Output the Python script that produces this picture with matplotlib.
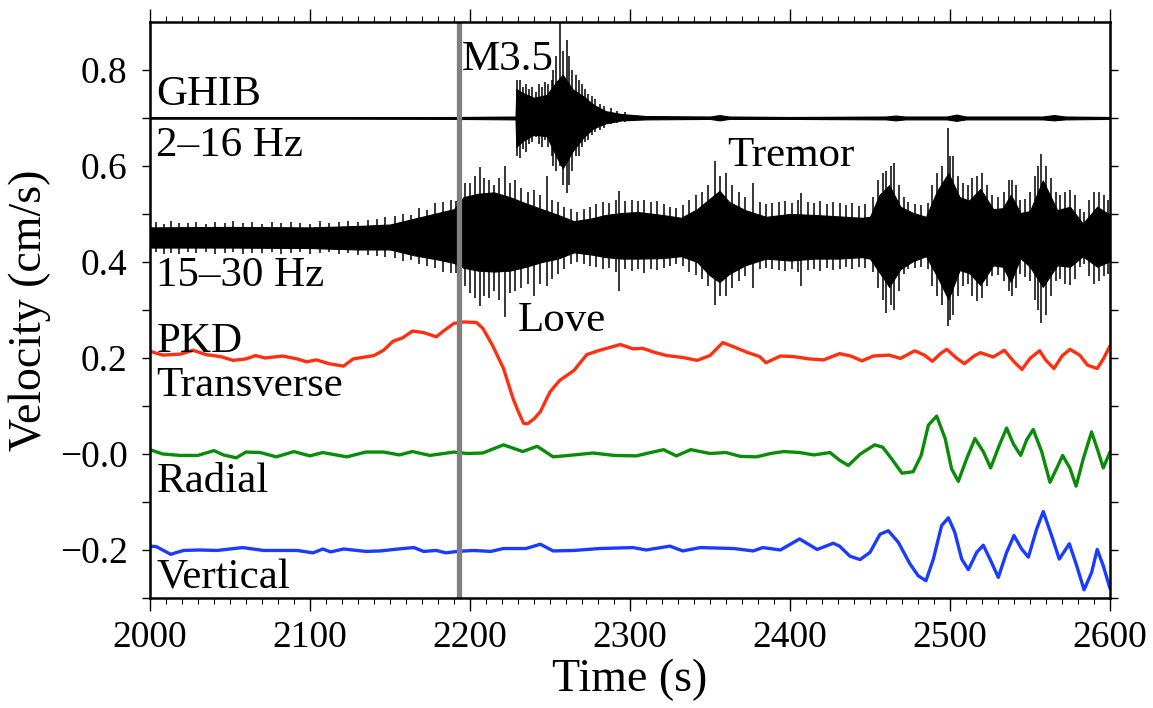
import numpy as np
import matplotlib.pyplot as plt
from matplotlib.ticker import MultipleLocator, FixedLocator, FixedFormatter

plt.rcParams['font.family'] = ['Liberation Serif', 'DejaVu Serif']

# PKD transverse (red), velocity offset around 0.2
t_trans = [2000, 2008, 2019, 2027, 2035, 2044, 2052, 2060, 2066, 2072, 2083, 2092,
           2098, 2104, 2112, 2121, 2127, 2140, 2146, 2152, 2158, 2164, 2171, 2179,
           2183, 2190, 2196, 2204, 2208, 2214, 2221, 2227, 2230, 2233.5, 2236, 2240,
           2244, 2250, 2256, 2265, 2273, 2281, 2294, 2302, 2308, 2315, 2323, 2333,
           2342, 2350, 2358, 2365, 2373, 2381, 2385, 2394, 2402, 2412, 2421, 2431,
           2438, 2445, 2452, 2462, 2469, 2478, 2484, 2489, 2494, 2498, 2504, 2509,
           2515, 2519, 2527, 2534, 2540, 2545, 2550, 2556, 2560, 2565, 2570, 2575,
           2581, 2586, 2592, 2596, 2600]
v_trans = [0.214, 0.206, 0.208, 0.216, 0.207, 0.203, 0.195, 0.198, 0.205, 0.200, 0.204, 0.198,
           0.192, 0.196, 0.188, 0.183, 0.198, 0.205, 0.216, 0.235, 0.242, 0.256, 0.253, 0.244,
           0.255, 0.272, 0.275, 0.274, 0.262, 0.227, 0.178, 0.115, 0.090, 0.064, 0.063, 0.073,
           0.088, 0.129, 0.153, 0.174, 0.207, 0.216, 0.228, 0.219, 0.220, 0.212, 0.205, 0.201,
           0.195, 0.205, 0.232, 0.223, 0.212, 0.203, 0.190, 0.204, 0.203, 0.198, 0.196, 0.209,
           0.204, 0.194, 0.204, 0.206, 0.199, 0.215, 0.206, 0.193, 0.209, 0.218, 0.200, 0.188,
           0.204, 0.211, 0.202, 0.216, 0.192, 0.176, 0.199, 0.215, 0.195, 0.178, 0.204, 0.218,
           0.206, 0.185, 0.178, 0.199, 0.225]

# PKD radial (green), offset around 0.0
t_rad = [2000, 2008, 2019, 2030, 2040, 2046, 2054, 2060, 2069, 2079, 2090, 2100,
         2108, 2123, 2135, 2146, 2156, 2164, 2175, 2190, 2198, 2208, 2221, 2233,
         2242, 2252, 2265, 2277, 2290, 2304, 2313, 2321, 2329, 2338, 2350, 2360,
         2369, 2379, 2388, 2396, 2406, 2415, 2425, 2431, 2436.5, 2444, 2453, 2458,
         2463.5, 2470, 2477, 2482, 2486.5, 2491.7, 2497, 2501, 2505.2, 2510.4, 2515.6,
         2520.8, 2525.4, 2530.8, 2535.4, 2539.6, 2544.2, 2548, 2552, 2557.3, 2562.5,
         2566.7, 2570.4, 2575, 2578.8, 2583.3, 2588.5, 2592.7, 2595.8, 2600]
v_rad = [0.009, 0.000, -0.003, -0.003, 0.007, -0.002, -0.008, 0.004, 0.003, -0.006, 0.005, -0.004,
         0.003, -0.006, 0.004, 0.004, -0.002, 0.005, -0.003, 0.004, 0.001, 0.002, 0.019, 0.005,
         0.016, -0.006, -0.002, 0.002, -0.003, -0.004, 0.003, 0.009, -0.004, 0.009, 0.001, 0.003,
         -0.005, -0.006, 0.001, 0.005, 0.003, -0.002, 0.003, -0.013, -0.024, 0.000, 0.019, 0.014,
         -0.010, -0.040, -0.037, -0.003, 0.060, 0.079, 0.032, -0.031, -0.057, -0.010, 0.032,
         0.005, -0.029, 0.018, 0.054, 0.021, -0.003, 0.030, 0.051, 0.005, -0.059,
         -0.030, -0.003, -0.030, -0.067, -0.010, 0.046, 0.004, -0.029, 0.004]

# PKD vertical (blue), offset around -0.2
t_vert = [2000, 2004, 2013, 2021, 2031, 2042, 2058, 2071, 2092, 2102, 2108, 2113,
          2121, 2135, 2144, 2158, 2165, 2171, 2179, 2185, 2192, 2202, 2213, 2221,
          2235, 2244, 2252, 2265, 2281, 2302, 2310, 2325, 2333, 2344, 2365, 2377,
          2383, 2394, 2406, 2417, 2427, 2431, 2437.5, 2443.8, 2450, 2456.3, 2461.5,
          2467.7, 2475, 2480.2, 2485, 2489.6, 2494.8, 2499, 2503, 2507.3, 2511.5,
          2516.7, 2520.8, 2525, 2530.2, 2535.4, 2540, 2544.8, 2549, 2554.2, 2558.3,
          2563.5, 2568.3, 2574.6, 2579.2, 2583.8, 2588.5, 2592, 2595.8, 2600]
v_vert = [-0.192, -0.193, -0.209, -0.201, -0.200, -0.201, -0.195, -0.201, -0.201, -0.206, -0.198, -0.204,
          -0.198, -0.203, -0.202, -0.197, -0.195, -0.203, -0.201, -0.206, -0.203, -0.201, -0.203, -0.197,
          -0.197, -0.188, -0.202, -0.201, -0.197, -0.195, -0.200, -0.192, -0.202, -0.195, -0.197, -0.202,
          -0.195, -0.200, -0.177, -0.199, -0.186, -0.192, -0.213, -0.220, -0.205, -0.167, -0.160,
          -0.184, -0.229, -0.254, -0.264, -0.219, -0.149, -0.133, -0.163, -0.219, -0.241,
          -0.205, -0.190, -0.219, -0.257, -0.205, -0.170, -0.198, -0.215, -0.156, -0.120,
          -0.170, -0.219, -0.187, -0.233, -0.283, -0.247, -0.199, -0.233, -0.280]

# GHIB 2-16 Hz envelope (centred on 0.70)
t_ghib = [2000, 2060, 2120, 2190, 2228.5, 2229, 2233, 2240, 2248, 2254, 2258, 2264,
          2271, 2277, 2285, 2295, 2310, 2350, 2356, 2362, 2400, 2460, 2466, 2472,
          2498, 2504, 2510, 2558, 2565, 2572, 2600]
ghib_hi = [0.7015, 0.7015, 0.7015, 0.702, 0.703, 0.760, 0.752, 0.742, 0.748, 0.775, 0.790, 0.760,
           0.745, 0.728, 0.714, 0.708, 0.704, 0.703, 0.706, 0.703, 0.702, 0.703, 0.705, 0.703,
           0.703, 0.707, 0.703, 0.703, 0.706, 0.703, 0.702]
ghib_lo = [0.6985, 0.6985, 0.6985, 0.698, 0.697, 0.640, 0.652, 0.665, 0.662, 0.620, 0.595, 0.630,
           0.660, 0.678, 0.689, 0.695, 0.697, 0.698, 0.695, 0.698, 0.698, 0.697, 0.695, 0.697,
           0.697, 0.694, 0.697, 0.697, 0.695, 0.697, 0.698]
# single swings of the M3.5 record: time, max, min
ghib_spk_t = [2229.5, 2231, 2233, 2235, 2237, 2239, 2241, 2243, 2245, 2247, 2249, 2251,
              2252, 2254, 2256.5, 2258, 2260.6, 2262, 2264, 2266, 2268, 2270, 2272, 2274,
              2276, 2278, 2281, 2284, 2288, 2292, 2297]
ghib_spk_hi = [0.780, 0.780, 0.765, 0.770, 0.760, 0.765, 0.755, 0.770, 0.765, 0.775, 0.770, 0.780,
               0.800, 0.830, 0.905, 0.840, 0.863, 0.830, 0.800, 0.790, 0.780, 0.770, 0.760, 0.750,
               0.745, 0.740, 0.730, 0.725, 0.720, 0.715, 0.712]
ghib_spk_lo = [0.620, 0.616, 0.635, 0.630, 0.645, 0.650, 0.660, 0.645, 0.640, 0.655, 0.640, 0.620,
               0.600, 0.590, 0.600, 0.560, 0.543, 0.560, 0.590, 0.620, 0.620, 0.640, 0.650, 0.655,
               0.665, 0.670, 0.675, 0.680, 0.688, 0.690, 0.692]

# 15-30 Hz envelope (centred on 0.45)
t_hf = [2000, 2050, 2100, 2130, 2150, 2165, 2180, 2190, 2196, 2205, 2215, 2225,
        2235, 2245, 2255, 2265, 2275, 2285, 2295, 2305, 2320, 2332, 2342, 2350,
        2356, 2362, 2372, 2385, 2400, 2415, 2430, 2445, 2450, 2456, 2462, 2469,
        2477, 2485, 2492, 2499, 2506, 2512, 2519, 2527, 2533, 2538, 2544, 2550,
        2558, 2567, 2575, 2583, 2592, 2600]
hf_hi = [0.472, 0.473, 0.472, 0.475, 0.478, 0.490, 0.502, 0.510, 0.535, 0.542, 0.545, 0.535,
         0.522, 0.510, 0.498, 0.485, 0.490, 0.498, 0.502, 0.504, 0.498, 0.492, 0.510, 0.532,
         0.548, 0.525, 0.508, 0.494, 0.500, 0.498, 0.495, 0.492, 0.494, 0.540, 0.560, 0.515,
         0.502, 0.494, 0.548, 0.585, 0.535, 0.528, 0.552, 0.510, 0.512, 0.540, 0.502, 0.506,
         0.570, 0.508, 0.515, 0.480, 0.515, 0.498]
hf_lo = [0.430, 0.430, 0.429, 0.426, 0.426, 0.414, 0.405, 0.398, 0.388, 0.382, 0.380, 0.382,
         0.390, 0.400, 0.407, 0.420, 0.416, 0.410, 0.407, 0.407, 0.408, 0.412, 0.400, 0.372,
         0.358, 0.375, 0.393, 0.407, 0.403, 0.407, 0.407, 0.410, 0.407, 0.378, 0.348, 0.385,
         0.402, 0.412, 0.370, 0.322, 0.383, 0.377, 0.352, 0.393, 0.390, 0.358, 0.408, 0.390,
         0.348, 0.393, 0.390, 0.412, 0.390, 0.402]
# single swings standing out of the 15-30 Hz band: time, max, min
hf_spk_t = [2004, 2009, 2013, 2018, 2024, 2029, 2035, 2041, 2047, 2052, 2058, 2064,
            2070, 2076, 2082, 2088, 2094, 2100, 2106, 2112, 2118, 2124, 2130, 2136,
            2142, 2147, 2153, 2158, 2163, 2168, 2173, 2178, 2183, 2188, 2191, 2197,
            2200, 2203, 2206, 2209, 2212, 2215, 2218, 2222, 2225, 2228, 2232, 2236,
            2240, 2244, 2248, 2251, 2255, 2259, 2263, 2267, 2271, 2275, 2279, 2283,
            2287, 2291, 2293, 2297, 2301, 2305, 2309, 2313, 2317, 2321, 2325, 2329,
            2333, 2337, 2341, 2345, 2349, 2353, 2356, 2360, 2364, 2368, 2372, 2377,
            2381, 2385, 2389, 2393, 2397, 2401, 2405, 2407, 2411, 2415, 2419, 2423,
            2427, 2431, 2435, 2439, 2443, 2447, 2452, 2455, 2458, 2460, 2463, 2465,
            2468, 2471, 2474, 2478, 2482, 2486, 2489, 2492, 2495, 2498.5, 2500, 2502,
            2505, 2508, 2511, 2514, 2517, 2520, 2523, 2526, 2530, 2534, 2537, 2538.5,
            2541, 2544, 2547, 2550, 2553, 2555, 2557, 2560, 2563, 2566, 2569, 2572,
            2575, 2578, 2581, 2584, 2587, 2590, 2593, 2596, 2599]
hf_spk_hi = [0.483, 0.480, 0.486, 0.482, 0.481, 0.484, 0.480, 0.483, 0.482, 0.485, 0.481, 0.484,
             0.480, 0.483, 0.482, 0.484, 0.481, 0.480, 0.485, 0.482, 0.484, 0.486, 0.483, 0.488,
             0.490, 0.494, 0.495, 0.500, 0.498, 0.512, 0.508, 0.522, 0.525, 0.530, 0.528, 0.565,
             0.565, 0.580, 0.597, 0.575, 0.570, 0.560, 0.575, 0.600, 0.565, 0.570, 0.555, 0.545,
             0.550, 0.540, 0.579, 0.530, 0.525, 0.515, 0.510, 0.505, 0.510, 0.515, 0.520, 0.525,
             0.522, 0.530, 0.547, 0.528, 0.530, 0.528, 0.530, 0.525, 0.528, 0.520, 0.515, 0.512,
             0.518, 0.530, 0.540, 0.545, 0.560, 0.610, 0.580, 0.585, 0.560, 0.545, 0.535, 0.564,
             0.525, 0.520, 0.522, 0.525, 0.528, 0.523, 0.530, 0.543, 0.525, 0.522, 0.528, 0.520,
             0.525, 0.522, 0.518, 0.523, 0.516, 0.520, 0.535, 0.570, 0.585, 0.590, 0.600, 0.606,
             0.560, 0.535, 0.525, 0.520, 0.518, 0.522, 0.560, 0.585, 0.600, 0.680, 0.620, 0.620,
             0.580, 0.565, 0.560, 0.575, 0.580, 0.585, 0.560, 0.540, 0.535, 0.545, 0.570, 0.570,
             0.560, 0.530, 0.532, 0.545, 0.580, 0.600, 0.625, 0.600, 0.575, 0.545, 0.540, 0.545,
             0.550, 0.540, 0.510, 0.505, 0.530, 0.545, 0.545, 0.540, 0.530]
hf_spk_lo = [0.420, 0.417, 0.419, 0.416, 0.420, 0.418, 0.421, 0.417, 0.419, 0.420, 0.416, 0.419,
             0.418, 0.421, 0.417, 0.419, 0.420, 0.416, 0.418, 0.420, 0.417, 0.419, 0.415, 0.414,
             0.412, 0.410, 0.408, 0.402, 0.404, 0.395, 0.392, 0.388, 0.380, 0.378, 0.376, 0.350,
             0.335, 0.325, 0.309, 0.330, 0.324, 0.340, 0.320, 0.286, 0.335, 0.340, 0.345, 0.355,
             0.330, 0.355, 0.350, 0.365, 0.375, 0.385, 0.395, 0.400, 0.395, 0.392, 0.390, 0.385,
             0.388, 0.380, 0.340, 0.385, 0.382, 0.385, 0.378, 0.385, 0.383, 0.388, 0.392, 0.395,
             0.392, 0.380, 0.372, 0.365, 0.350, 0.310, 0.330, 0.330, 0.345, 0.360, 0.370, 0.345,
             0.385, 0.388, 0.385, 0.383, 0.382, 0.386, 0.380, 0.350, 0.383, 0.386, 0.382, 0.388,
             0.384, 0.386, 0.390, 0.386, 0.390, 0.388, 0.380, 0.345, 0.320, 0.293, 0.310, 0.300,
             0.340, 0.375, 0.385, 0.388, 0.390, 0.385, 0.350, 0.330, 0.310, 0.266, 0.280, 0.290,
             0.330, 0.350, 0.355, 0.330, 0.318, 0.325, 0.350, 0.370, 0.372, 0.360, 0.340, 0.330,
             0.345, 0.375, 0.368, 0.360, 0.320, 0.300, 0.272, 0.290, 0.330, 0.360, 0.365, 0.355,
             0.352, 0.365, 0.390, 0.395, 0.370, 0.355, 0.360, 0.370, 0.375]

t_origin = 2193

fig = plt.figure(figsize=(11.53, 7.08), dpi=100)
ax = fig.add_axes([0.130, 0.1554, 0.8327, 0.8136])

# high-frequency traces
ax.fill_between(t_ghib, ghib_lo, ghib_hi, color='black', lw=0.8)
ax.plot([2000, 2600], [0.70, 0.70], color='black', lw=1.3)
ax.vlines(ghib_spk_t, ghib_spk_lo, ghib_spk_hi, color='black', lw=1.1)
ax.fill_between(t_hf, hf_lo, hf_hi, color='black', lw=0.8)
ax.vlines(hf_spk_t, hf_spk_lo, hf_spk_hi, color='black', lw=1.1)

# long-period PKD components
for tt, vv, c in [(t_trans, v_trans, '#ff3010'), (t_rad, v_rad, '#0a8c0a'),
                  (t_vert, v_vert, '#1a3cff')]:
    ax.plot(tt, vv, color=c, lw=2.4, solid_joinstyle='round', solid_capstyle='round')

ax.axvline(t_origin, color='#808080', lw=3.8)

ax.set_xlim(2000, 2600)
ax.set_ylim(-0.3, 0.9)

# labels
fs = 31
txt = dict(fontsize=fs, ha='left', va='baseline')
ax.text(2004, 0.727, 'GHIB', **txt)
ax.text(2004, 0.621, '2–16 Hz', **txt)
ax.text(2004, 0.350, '15–30 Hz', **txt)
ax.text(2004, 0.213, 'PKD', **txt)
ax.text(2004, 0.121, 'Transverse', **txt)
ax.text(2004, -0.080, 'Radial', **txt)
ax.text(2004, -0.281, 'Vertical', **txt)
ax.text(2195, 0.800, 'M3.5', **txt)
ax.text(2230, 0.257, 'Love', **txt)
ax.text(2361, 0.600, 'Tremor', **txt)

# ticks on all sides, pointing outward
ax.xaxis.set_major_locator(MultipleLocator(100))
ax.xaxis.set_minor_locator(MultipleLocator(10))
yt = [-0.3, -0.2, -0.1, 0.0, 0.1, 0.2, 0.3, 0.4, 0.5, 0.6, 0.7, 0.8]
ylab = ['', '−0.2', '', '−0.0', '', '0.2', '', '0.4', '', '0.6', '', '0.8']
ax.yaxis.set_major_locator(FixedLocator(yt))
ax.yaxis.set_major_formatter(FixedFormatter(ylab))
ax.tick_params(axis='x', which='major', direction='out', length=9.5, width=1.0,
               top=True, labelsize=27, pad=7)
ax.tick_params(axis='x', which='minor', direction='out', length=4.5, width=0.8, top=True)
ax.tick_params(axis='y', which='major', direction='out', length=6, width=1.0,
               right=True, labelsize=27, pad=10)
for s in ax.spines.values():
    s.set_linewidth(1.8)

ax.set_xlabel('Time (s)', fontsize=33, labelpad=2)
ax.set_ylabel('Velocity (cm/s)', fontsize=33, labelpad=6)

fig.savefig('out.png', dpi=100)
